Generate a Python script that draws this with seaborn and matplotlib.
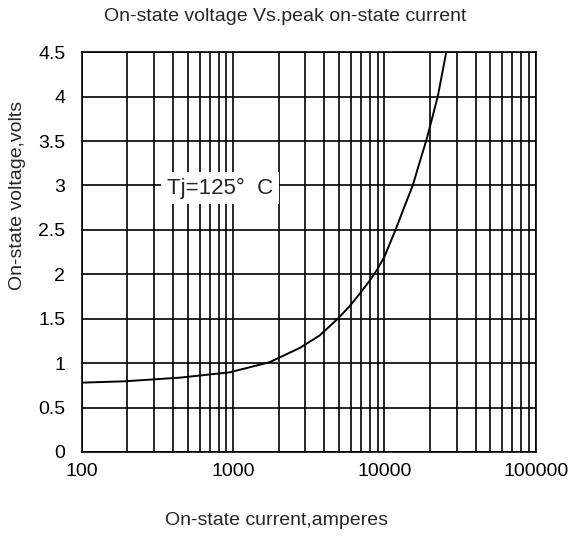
import matplotlib.pyplot as plt
import seaborn as sns

sns.set_theme(style="white")
plt.rcParams['font.family'] = ['Liberation Sans', 'DejaVu Sans']

# curve (current in A, voltage in V)
current = [100, 192, 443, 948, 1740, 2750, 3720, 4920, 5880, 7000, 8000, 9000,
           10000, 11640, 13400, 15380, 17000, 19000, 22500, 25600]
voltage = [0.78, 0.795, 0.836, 0.896, 1.01, 1.17, 1.31, 1.50, 1.64, 1.80, 1.93, 2.06,
           2.20, 2.47, 2.74, 3.00, 3.25, 3.52, 4.00, 4.50]

y_ticks = [0, 0.5, 1, 1.5, 2, 2.5, 3, 3.5, 4, 4.5]
y_labels = ['0', '0.5', '1', '1.5', '2', '2.5', '3', '3.5', '4', '4.5']
x_ticks = [100, 1000, 10000, 100000]
x_labels = ['100', '1000', '10000', '100000']

fig = plt.figure(figsize=(5.73, 5.38), dpi=100)
ax = fig.add_axes([0.143, 0.160, 0.792, 0.743])

sns.lineplot(x=current, y=voltage, ax=ax, color='black', linewidth=1.4)

ax.set_xscale('log')
ax.set_xlim(100, 100000)
ax.set_ylim(0, 4.5)
ax.set_yticks(y_ticks)
ax.set_yticklabels(y_labels)
ax.set_xticks(x_ticks)
ax.set_xticklabels(x_labels)
ax.set_xticks([m * 10 ** d for d in range(2, 5) for m in range(2, 10)], minor=True)
ax.tick_params(axis='both', which='both', length=0, labelsize=14, colors='black')
ax.tick_params(axis='x', pad=8)
ax.tick_params(axis='y', pad=12)

ax.grid(True, which='major', color='black', linewidth=1.2)
ax.grid(True, which='minor', axis='x', color='black', linewidth=1.2)
for s in ax.spines.values():
    s.set_color('black')
    s.set_linewidth(1.2)

ax.text(365, 2.97, 'Tj=125°  C', fontsize=16, va='center', ha='left',
        bbox=dict(facecolor='white', edgecolor='none', pad=4))

fig.text(0.497, 0.970, 'On-state voltage Vs.peak on-state current', fontsize=14,
         ha='center', va='center')
fig.text(0.482, 0.032, 'On-state current,amperes', fontsize=14, ha='center', va='center')
fig.text(0.030, 0.636, 'On-state voltage,volts', fontsize=14, ha='center', va='center',
         rotation=90)

fig.savefig('out.png', dpi=100, facecolor='white')
